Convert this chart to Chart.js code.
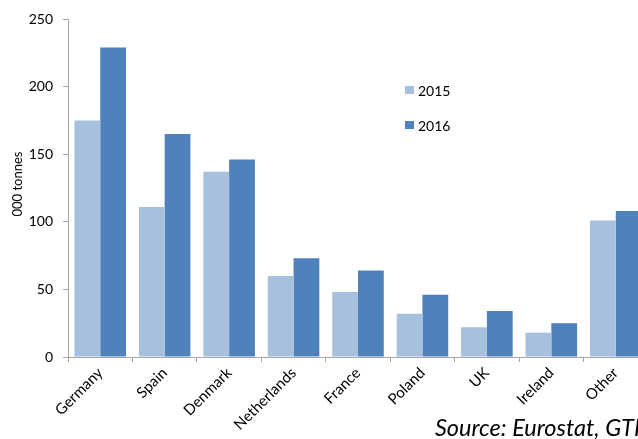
<!DOCTYPE html>
<html>
<head>
<meta charset="utf-8">
<script src="https://cdn.jsdelivr.net/npm/chart.js@4/dist/chart.umd.min.js"></script>
<style>
  html, body { margin: 0; padding: 0; background: #fff; overflow: hidden; }
  #wrap { width: 638px; height: 439px; overflow: hidden; }
  canvas { display: block; }
</style>
</head>
<body>
<div id="wrap"><canvas id="importsChart" width="700" height="439"></canvas></div>
<script>
const countries = ['Germany', 'Spain', 'Denmark', 'Netherlands', 'France', 'Poland', 'UK', 'Ireland', 'Other'];
const values2015 = [175, 111, 137, 60, 48, 32, 22, 18, 101];
const values2016 = [229, 165, 146, 73, 64, 46, 34, 25, 108];
const yTicks = [0, 50, 100, 150, 200, 250];
const sourceNote = 'Source: Eurostat, GTIS';

const FONT = 'Lato, "Open Sans", sans-serif';
const AXIS_GREY = '#a6a6a6';

// legend drawn as a plain vertical list inside the plot
const sideLegend = {
    id: 'sideLegend',
    afterDraw(chart) {
        const ctx = chart.ctx;
        ctx.save();
        ctx.font = '14px ' + FONT;
        ctx.textBaseline = 'middle';
        chart.data.datasets.forEach((ds, i) => {
            const y = 90 + i * 35;
            ctx.fillStyle = ds.backgroundColor;
            ctx.fillRect(405, y - 4, 9, 8);
            ctx.fillStyle = '#000';
            ctx.fillText(ds.label, 418, y + 1);
        });
        ctx.restore();
    }
};

const sourceText = {
    id: 'sourceText',
    afterDraw(chart) {
        const ctx = chart.ctx;
        ctx.save();
        ctx.font = 'italic 23.5px ' + FONT;
        ctx.fillStyle = '#000';
        ctx.textBaseline = 'alphabetic';
        ctx.fillText(sourceNote, 435, 436);
        ctx.restore();
    }
};

// axis title placed a little above the plot's mid-height
const yTitle = {
    id: 'yTitle',
    afterDraw(chart) {
        const ctx = chart.ctx;
        ctx.save();
        ctx.translate(18, 184);
        ctx.rotate(-Math.PI / 2);
        ctx.font = '13px ' + FONT;
        ctx.fillStyle = '#000';
        ctx.textAlign = 'center';
        ctx.textBaseline = 'middle';
        ctx.fillText('000 tonnes', 0, 0);
        ctx.restore();
    }
};

new Chart(document.getElementById('importsChart'), {
    type: 'bar',
    data: {
        labels: countries,
        datasets: [
            { label: '2015', data: values2015, backgroundColor: '#a7c0de' },
            { label: '2016', data: values2016, backgroundColor: '#4f81bd' }
        ]
    },
    options: {
        responsive: false,
        animation: false,
        devicePixelRatio: 1,
        layout: { padding: { top: 19, right: 52, left: 0, bottom: 0 } },
        datasets: { bar: { categoryPercentage: 0.8, barPercentage: 1.0 } },
        plugins: {
            legend: { display: false },
            tooltip: { enabled: false }
        },
        scales: {
            x: {
                afterFit(scale) { scale.height = 82; },
                grid: { drawOnChartArea: false, color: AXIS_GREY, tickLength: 5 },
                border: { color: AXIS_GREY },
                ticks: {
                    minRotation: 45,
                    maxRotation: 45,
                    color: '#000',
                    padding: 2,
                    font: { family: FONT, size: 15 }
                }
            },
            y: {
                min: 0,
                max: 250,
                afterFit(scale) { scale.width = 68; },
                afterBuildTicks(scale) { scale.ticks = yTicks.map(v => ({ value: v })); },
                grid: { drawOnChartArea: false, color: AXIS_GREY, tickLength: 5 },
                border: { color: AXIS_GREY },
                ticks: {
                    color: '#000',
                    padding: 10,
                    font: { family: FONT, size: 14 }
                }
            }
        }
    },
    plugins: [sideLegend, sourceText, yTitle]
});
</script>
</body>
</html>
